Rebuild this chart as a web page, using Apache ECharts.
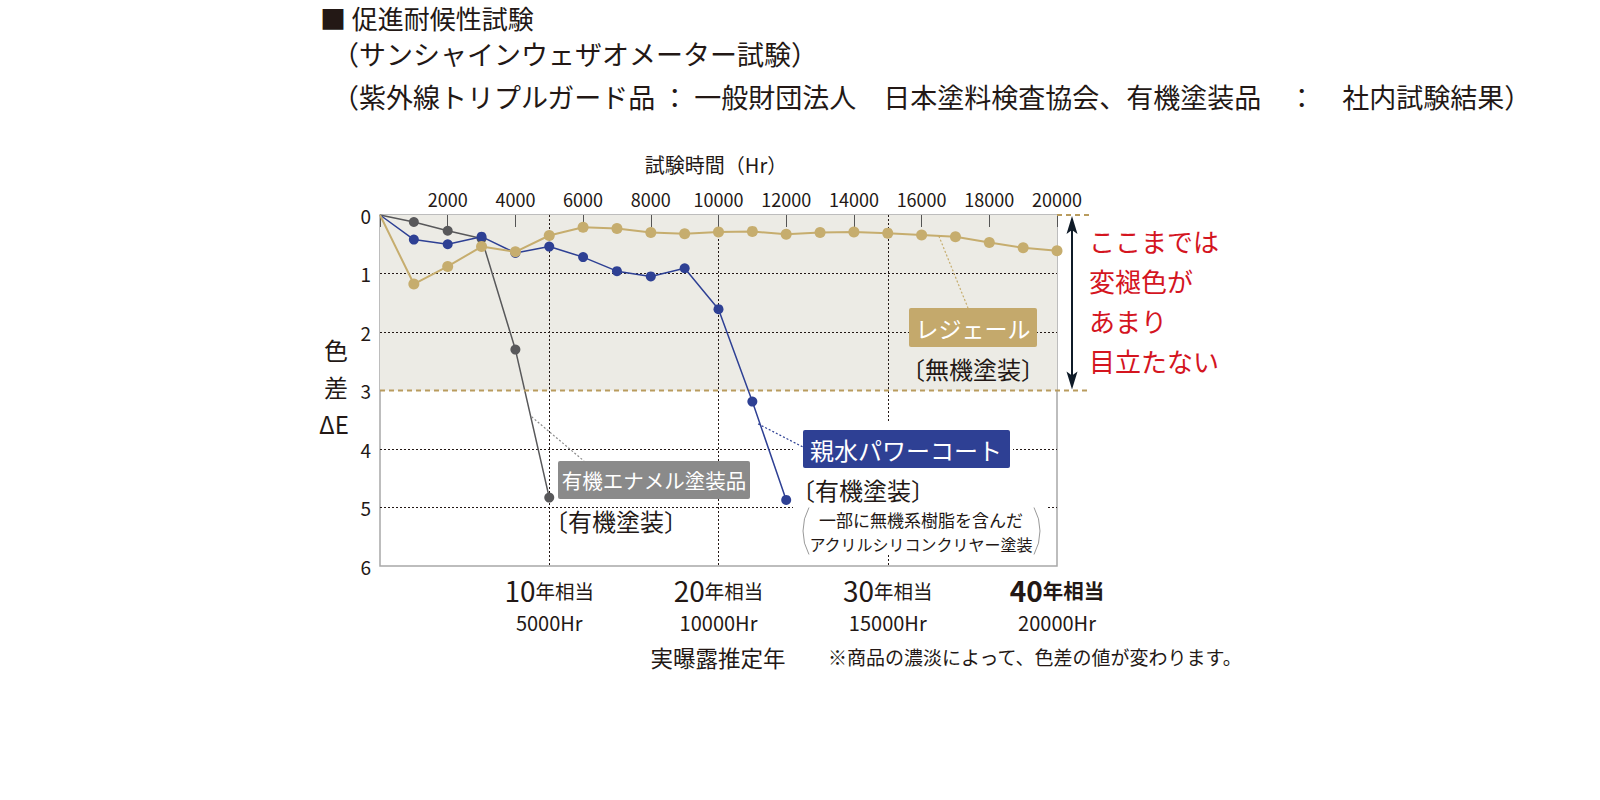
<!doctype html>
<html lang="ja">
<head>
<meta charset="UTF-8">
<title>促進耐候性試験</title>
<script src="https://cdn.jsdelivr.net/npm/echarts@6/dist/echarts.min.js"></script>
<style>
    html, body {margin: 0; padding: 0; background: #fff;}
    #chart {width: 1600px; height: 800px;}
</style>
</head>
<body>
<div id="chart"></div>
<script>
    // 試験時間（Hr）
    var hours = [0, 1000, 2000, 3000, 4000, 5000, 6000, 7000, 8000, 9000, 10000,
        11000, 12000, 13000, 14000, 15000, 16000, 17000, 18000, 19000, 20000];
    // 色差ΔE
    var enamel = [0, 0.12, 0.27, 0.40, 2.30, 4.83];                 // 有機エナメル塗装品
    var powerCoat = [0, 0.42, 0.50, 0.37, 0.65, 0.54, 0.72, 0.96, 1.05, 0.91, 1.61, 3.19, 4.87]; // 親水パワーコート
    var regeal = [0, 1.18, 0.88, 0.54, 0.63, 0.35, 0.21, 0.23, 0.30, 0.32, 0.29,
        0.28, 0.33, 0.30, 0.29, 0.31, 0.34, 0.37, 0.47, 0.56, 0.61];  // レジェール
    // 実曝露推定年
    var yearNums = ['10', '20', '30', '40'];
    var yearHours = [5000, 10000, 15000, 20000];

    var FONT = '"Noto Sans CJK JP", "Noto Sans", sans-serif';
    var INK = '#231815';
    var GOLD = '#c6ad6e';
    var BLUE = '#2e4094';
    var GREY = '#58585a';

    function pairs(vals) {
        return vals.map(function (v, i) {
            var item = {value: [hours[i], v]};
            if (i === 0) item.symbol = 'none';
            return item;
        });
    }

    var chart = echarts.init(document.getElementById('chart'), null, {renderer: 'svg'});

    var option = {
        animation: false,
        textStyle: {fontFamily: FONT, color: INK},
        grid: {left: 380, right: 543, top: 215, bottom: 234, show: true, borderColor: '#a8a8a8', borderWidth: 1.5},
        xAxis: [{
            type: 'value', position: 'top', min: 0, max: 20000, interval: 2000,
            axisLine: {show: false},
            axisTick: {show: true, inside: true, length: 12, lineStyle: {color: '#555', width: 1}},
            axisLabel: {fontSize: 18, color: INK, margin: 7, fontFamily: FONT,
                formatter: function (v) { return v === 0 ? '' : String(v); }},
            splitLine: {show: false}
        }, {
            type: 'value', position: 'bottom', min: 0, max: 20000, interval: 5000,
            axisLine: {show: false}, axisTick: {show: false},
            axisLabel: {
                margin: 8,
                formatter: function (v) {
                    var i = yearHours.indexOf(v);
                    if (i < 0) return '';
                    var last = i === yearHours.length - 1;
                    return '{' + (last ? 'nb' : 'n') + '|' + yearNums[i] + '}{' + (last ? 'kb' : 'k') + '|年相当}\n{h|' + yearHours[i] + 'Hr}';
                },
                rich: {
                    n: {fontSize: 28, color: INK, lineHeight: 32, fontFamily: FONT},
                    k: {fontSize: 19.5, color: INK, lineHeight: 32, fontFamily: FONT},
                    nb: {fontSize: 28, color: INK, lineHeight: 32, fontFamily: FONT, fontWeight: 'bold'},
                    kb: {fontSize: 20.5, color: INK, lineHeight: 32, fontFamily: FONT, fontWeight: 'bold'},
                    h: {fontSize: 20, color: INK, lineHeight: 32, fontFamily: FONT}
                }
            },
            splitLine: {show: true, showMinLine: false, showMaxLine: false,
                lineStyle: {color: INK, type: [2, 2], width: 1}}
        }],
        yAxis: {
            type: 'value', inverse: true, min: 0, max: 6, interval: 1,
            axisLine: {show: false}, axisTick: {show: false},
            axisLabel: {fontSize: 19, color: INK, margin: 9, fontFamily: FONT},
            splitLine: {show: true, lineStyle: {
                color: ['rgba(0,0,0,0)', INK, INK, 'rgba(0,0,0,0)', INK, INK, 'rgba(0,0,0,0)'],
                type: [2, 2], width: 1}},
            splitArea: {show: true, areaStyle: {
                color: ['#ecebe5', '#ecebe5', '#ecebe5', 'rgba(0,0,0,0)', 'rgba(0,0,0,0)', 'rgba(0,0,0,0)']}}
        },
        series: [{
            name: '有機エナメル塗装品', type: 'line', data: pairs(enamel), z: 3,
            color: GREY, symbol: 'circle', symbolSize: 10, lineStyle: {width: 1.5, color: GREY}
        }, {
            name: '親水パワーコート', type: 'line', data: pairs(powerCoat), z: 4,
            color: BLUE, symbol: 'circle', symbolSize: 10, lineStyle: {width: 1.5, color: BLUE}
        }, {
            name: 'レジェール', type: 'line', data: pairs(regeal), z: 5,
            color: GOLD, symbol: 'circle', symbolSize: 11, lineStyle: {width: 2, color: GOLD}
        }]
    };
    chart.setOption(option);

    // 注記（位置は軸の換算から）
    function px(x, y) { return chart.convertToPixel({gridIndex: 0}, [x, y]); }
    var p0 = px(0, 0), pEnd = px(20000, 0), p3 = px(20000, 3), pL3 = px(0, 3);
    var ext = pEnd[0] + 33;
    var ax = pEnd[0] + 15;
    var gEnamel = px(4480, 3.45), gCoat = px(11170, 3.57), gRegeal = px(16510, 0.36);

    function txt(x, y, s, size, color, align, extra) {
        var style = {text: s, x: x, y: y, fill: color || INK, font: (extra || '') + ' ' + size + 'px ' + FONT,
            textAlign: align || 'left', textVerticalAlign: 'middle'};
        return {type: 'text', z: 20, style: style};
    }
    function leader(from, to, color) {
        return {type: 'polyline', z: 12, shape: {points: [from, to]},
            style: {stroke: color, lineWidth: 1.2, lineDash: [2, 2], fill: null}};
    }

    var g = [
        // 見出し
        txt(320, 17.5, '■ 促進耐候性試験', 26),
        txt(332, 53, '（サンシャインウェザオメーター試験）', 27),
        txt(332, 96, '（紫外線トリプルガード品 ： 一般財団法人　日本塗料検査協会、有機塗装品　：　社内試験結果）', 27),
        // 軸名
        txt(716, 164, '試験時間（Hr）', 20, INK, 'center'),
        txt(336, 349, '色', 24, INK, 'center'),
        txt(336, 386, '差', 24, INK, 'center'),
        txt(334, 423, 'ΔE', 24, INK, 'center'),
        txt(718, 657, '実曝露推定年', 22.5, INK, 'center'),
        txt(828, 656, '※商品の濃淡によって、色差の値が変わります。', 19),
        // 金色の破線と矢印
        {type: 'line', z: 11, shape: {x1: pEnd[0], y1: p0[1], x2: ext, y2: p0[1]},
            style: {stroke: '#b99c5e', lineWidth: 2, lineDash: [5, 4]}},
        {type: 'line', z: 11, shape: {x1: pL3[0], y1: pL3[1], x2: ext, y2: pL3[1]},
            style: {stroke: '#b99c5e', lineWidth: 2, lineDash: [5, 4]}},
        {type: 'line', z: 12, shape: {x1: ax, y1: p0[1] + 12, x2: ax, y2: p3[1] - 12},
            style: {stroke: '#0f1b28', lineWidth: 2}},
        {type: 'polygon', z: 12, shape: {points: [[ax, p0[1] + 1], [ax - 5.5, p0[1] + 19], [ax, p0[1] + 15], [ax + 5.5, p0[1] + 19]]},
            style: {fill: '#0f1b28'}},
        {type: 'polygon', z: 12, shape: {points: [[ax, p3[1] - 1], [ax - 5.5, p3[1] - 19], [ax, p3[1] - 15], [ax + 5.5, p3[1] - 19]]},
            style: {fill: '#0f1b28'}},
        {type: 'text', z: 20, style: {text: 'ここまでは\n変褪色が\nあまり\n目立たない', x: ext - 1, y: 220,
            fill: '#d4151f', font: '26px ' + FONT, lineHeight: 40, textAlign: 'left', textVerticalAlign: 'top'}},
        // 引き出し線
        leader(gEnamel, [584, 461], '#8a8a8a'),
        leader(gCoat, [803, 447], BLUE),
        leader(gRegeal, [968, 308], GOLD),
        // レジェール
        {type: 'rect', z: 13, shape: {x: 909, y: 308, width: 128, height: 39, r: 2}, style: {fill: '#c4a96c'}},
        txt(973, 328, 'レジェール', 23, '#fff', 'center'),
        txt(901, 368, '〔無機塗装〕', 24),
        // 親水パワーコート
        {type: 'rect', z: 10, shape: {x: 793, y: 423, width: 220, height: 47}, style: {fill: '#fff'}},
        {type: 'rect', z: 10, shape: {x: 793, y: 470, width: 253, height: 84}, style: {fill: '#fff'}},
        {type: 'rect', z: 13, shape: {x: 803, y: 430, width: 207, height: 38, r: 2}, style: {fill: BLUE}},
        txt(906, 449, '親水パワーコート', 24, '#fff', 'center'),
        txt(791, 489, '〔有機塗装〕', 24),
        txt(921, 519, '一部に無機系樹脂を含んだ', 17, INK, 'center'),
        txt(921, 544, 'アクリルシリコンクリヤー塗装', 16, INK, 'center'),
        {type: 'arc', z: 13, shape: {cx: 852, cy: 531, r: 49, startAngle: Math.PI - 0.5, endAngle: Math.PI + 0.5, clockwise: true},
            style: {stroke: '#999', lineWidth: 1, fill: null}},
        {type: 'arc', z: 13, shape: {cx: 991, cy: 531, r: 49, startAngle: -0.5, endAngle: 0.5, clockwise: true},
            style: {stroke: '#999', lineWidth: 1, fill: null}},
        // 有機エナメル塗装品
        {type: 'rect', z: 13, shape: {x: 558, y: 461, width: 192, height: 38, r: 2}, style: {fill: '#8a8a8a'}},
        txt(654, 480, '有機エナメル塗装品', 20.5, '#fff', 'center'),
        txt(544, 520, '〔有機塗装〕', 24)
    ];
    chart.setOption({graphic: {elements: g}});
</script>
</body>
</html>
